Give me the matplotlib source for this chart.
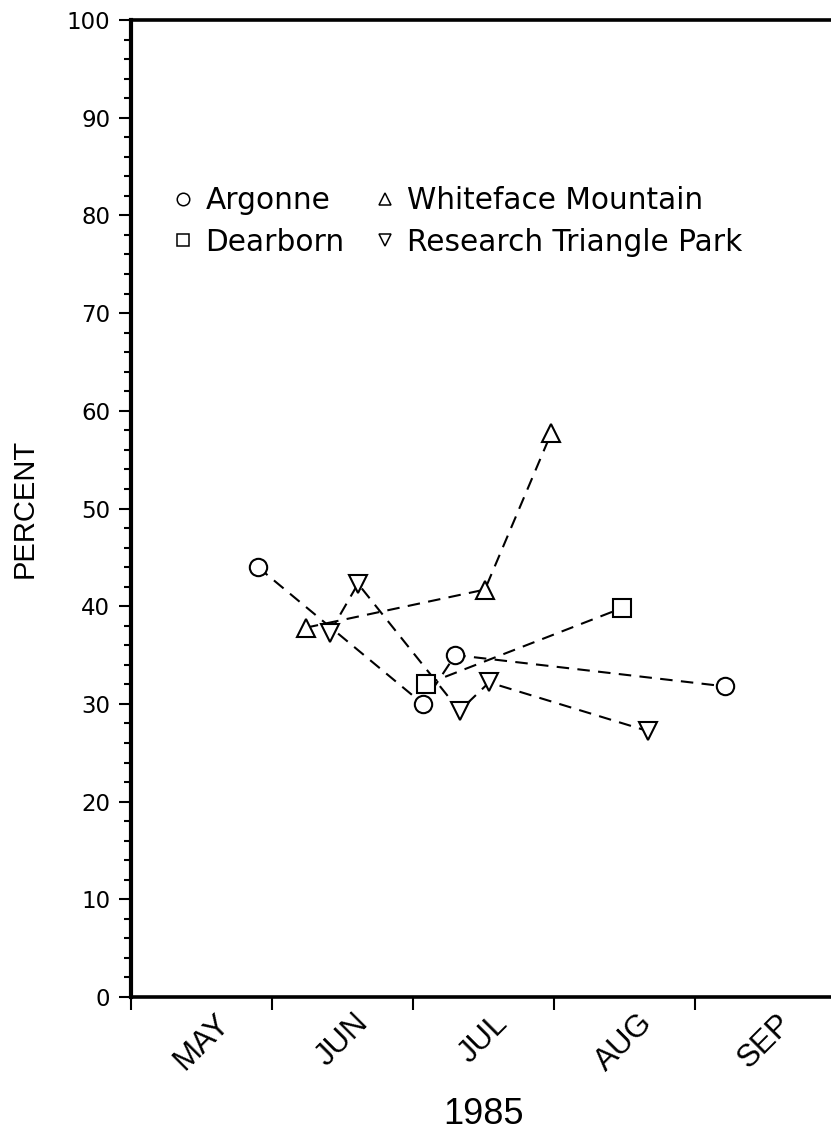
import matplotlib.pyplot as plt
from matplotlib.lines import Line2D
from matplotlib.ticker import MultipleLocator, FixedLocator

# x in months after May 1, 1985 (0 = May 1, 1 = Jun 1, ...)
argonne_x = [0.90, 2.07, 2.30, 4.21]
argonne_y = [44.0, 30.0, 35.0, 31.8]

whiteface_x = [1.24, 2.51, 2.98]
whiteface_y = [37.8, 41.7, 57.7]

dearborn_x = [2.09, 3.48]
dearborn_y = [32.0, 39.8]

rtp_x = [1.41, 1.61, 2.33, 2.54, 3.67]
rtp_y = [37.3, 42.3, 29.3, 32.2, 27.2]

month_labels = ['MAY', 'JUN', 'JUL', 'AUG', 'SEP']
year_label = '1985'

plt.rcParams['lines.scale_dashes'] = False

fig = plt.figure(figsize=(8.31, 11.30), dpi=100)
ax = fig.add_axes([131 / 831, 133 / 1130, 705 / 831, 977 / 1130])

series = [
    (argonne_x, argonne_y, 'o', 'Argonne'),
    (whiteface_x, whiteface_y, '^', 'Whiteface Mountain'),
    (dearborn_x, dearborn_y, 's', 'Dearborn'),
    (rtp_x, rtp_y, 'v', 'Research Triangle Park'),
]
for xs, ys, mk, name in series:
    ax.plot(xs, ys, color='black', linestyle=(0, (9, 6)), linewidth=1.5, zorder=2)
    ax.plot(xs, ys, linestyle='none', marker=mk, markersize=12.5,
            markerfacecolor='white', markeredgecolor='black', markeredgewidth=1.5,
            zorder=3)

ax.set_xlim(0, 5)
ax.set_ylim(0, 100)

# y axis ticks
ax.yaxis.set_major_locator(MultipleLocator(10))
ax.yaxis.set_minor_locator(MultipleLocator(2))
ax.tick_params(axis='y', which='major', length=9, width=1.5, direction='out', pad=6,
               labelsize=16.5)
ax.tick_params(axis='y', which='minor', length=5, width=1.5, direction='out')
for lab in ax.get_yticklabels():
    lab.set_fontfamily('DejaVu Sans')

# x axis: ticks at month starts, labels at mid month
ax.xaxis.set_major_locator(FixedLocator(range(6)))
ax.xaxis.set_major_formatter(plt.NullFormatter())
ax.xaxis.set_minor_locator(FixedLocator([m + 0.5 for m in range(5)]))
ax.set_xticklabels(month_labels, minor=True, rotation=45, ha='center',
                   fontfamily='Liberation Sans', fontsize=22.5)
ax.tick_params(axis='x', which='major', length=9, width=1.5, direction='out')
ax.tick_params(axis='x', which='minor', length=0, pad=8)

ax.set_xlabel(year_label, fontfamily='Liberation Sans', fontsize=26, labelpad=14)
ax.set_ylabel('PERCENT', fontfamily='Liberation Sans', fontsize=21, labelpad=20)

ax.spines['left'].set_linewidth(3.0)
ax.spines['bottom'].set_linewidth(2.6)
ax.spines['top'].set_linewidth(2.6)
ax.spines['right'].set_visible(False)

handles = [Line2D([], [], linestyle='none', marker=mk, markersize=9,
                  markerfacecolor='white', markeredgecolor='black', markeredgewidth=1.1)
           for _, _, mk, _ in series]
names = [s[3] for s in series]
order = [0, 2, 1, 3]
leg = ax.legend([handles[i] for i in order], [names[i] for i in order],
                ncol=2, frameon=False, loc='upper left',
                bbox_to_anchor=(0.024, 0.857), handlelength=0.6, handletextpad=0.45,
                columnspacing=1.05, labelspacing=0.42,
                prop={'family': 'DejaVu Sans', 'size': 21.3})

fig.savefig('out.png', dpi=100)
